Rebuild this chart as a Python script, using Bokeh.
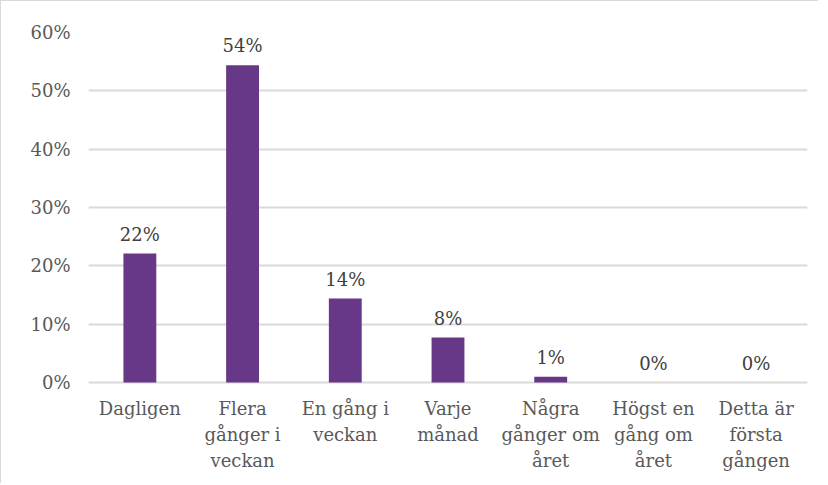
from bokeh.plotting import figure
from bokeh.models import ColumnDataSource, Range1d, FixedTicker, LabelSet
from bokeh.core.properties import value
from bokeh.embed import file_html
from bokeh.resources import INLINE

categories = ["Dagligen", "Flera gånger i veckan", "En gång i veckan", "Varje månad",
              "Några gånger om året", "Högst en gång om året", "Detta är första gången"]
tick_lines = [["Dagligen"], ["Flera", "gånger i", "veckan"], ["En gång i", "veckan"],
              ["Varje", "månad"], ["Några", "gånger om", "året"], ["Högst en", "gång om", "året"],
              ["Detta är", "första", "gången"]]
values = [0.221, 0.544, 0.144, 0.077, 0.010, 0.0, 0.0]
y_ticks = [0.0, 0.1, 0.2, 0.3, 0.4, 0.5, 0.6]

FONT = "DejaVu Serif"
FSIZE = "18px"
TXT = "#595959"
GRID = "#d9d9d9"

labels = [f"{round(v*100):.0f}%" for v in values]
src = ColumnDataSource(dict(cat=categories, val=values, lab=labels))

lc, lt, lo = [], [], []
for c, lines in zip(categories, tick_lines):
    for k, t in enumerate(lines):
        lc.append(c)
        lt.append(t)
        lo.append(26 * (k + 1))
tsrc = ColumnDataSource(dict(cat=lc, txt=lt, off=lo, y=[0.0] * len(lc)))

W, H = 818, 483
top_b, left_b, right_b = 31, 87, 12
plot_px = 350.0                      # pixel height of the 0..60% span
frame_h = H - top_b
y_max = 0.6
y_min = -(frame_h - plot_px) * y_max / plot_px

p = figure(x_range=categories, y_range=Range1d(y_min, y_max), width=W, height=H,
           output_backend="svg", toolbar_location=None,
           min_border_left=left_b, min_border_right=right_b, min_border_top=top_b,
           min_border_bottom=0)
p.styles = {"border-left": "1px solid #d9d9d9", "border-top": "1px solid #d9d9d9"}
p.outline_line_color = None
p.background_fill_color = "white"
p.border_fill_color = "white"
p.xaxis.visible = False

p.vbar(x="cat", top="val", bottom=0, width=0.32, source=src, fill_color="#673788",
       line_color=None)

lbl = LabelSet(x="cat", y="val", text="lab", source=src, text_align="center",
               text_baseline="bottom", y_offset=9, text_font=value(FONT),
               text_font_size=FSIZE, text_color="#404040")
p.add_layout(lbl)

p.text(x="cat", y="y", text="txt", y_offset="off", source=tsrc,
       text_align="center", text_baseline="middle", text_font=value(FONT),
       text_font_size=FSIZE, text_color=TXT)

p.yaxis.ticker = FixedTicker(ticks=y_ticks)
p.yaxis.major_label_overrides = {t: f"{int(round(t*100))}%" for t in y_ticks}
p.yaxis.axis_line_color = None
p.yaxis.major_tick_line_color = None
p.yaxis.major_tick_out = 0
p.yaxis.major_tick_in = 0
p.yaxis.minor_tick_line_color = None
p.yaxis.major_label_standoff = 18
p.yaxis.major_label_text_font = FONT
p.yaxis.major_label_text_font_size = FSIZE
p.yaxis.major_label_text_color = TXT

p.xgrid.grid_line_color = None
p.ygrid.grid_line_color = GRID
p.ygrid.grid_line_width = 2

open("out.html", "w").write(file_html(p, INLINE))
